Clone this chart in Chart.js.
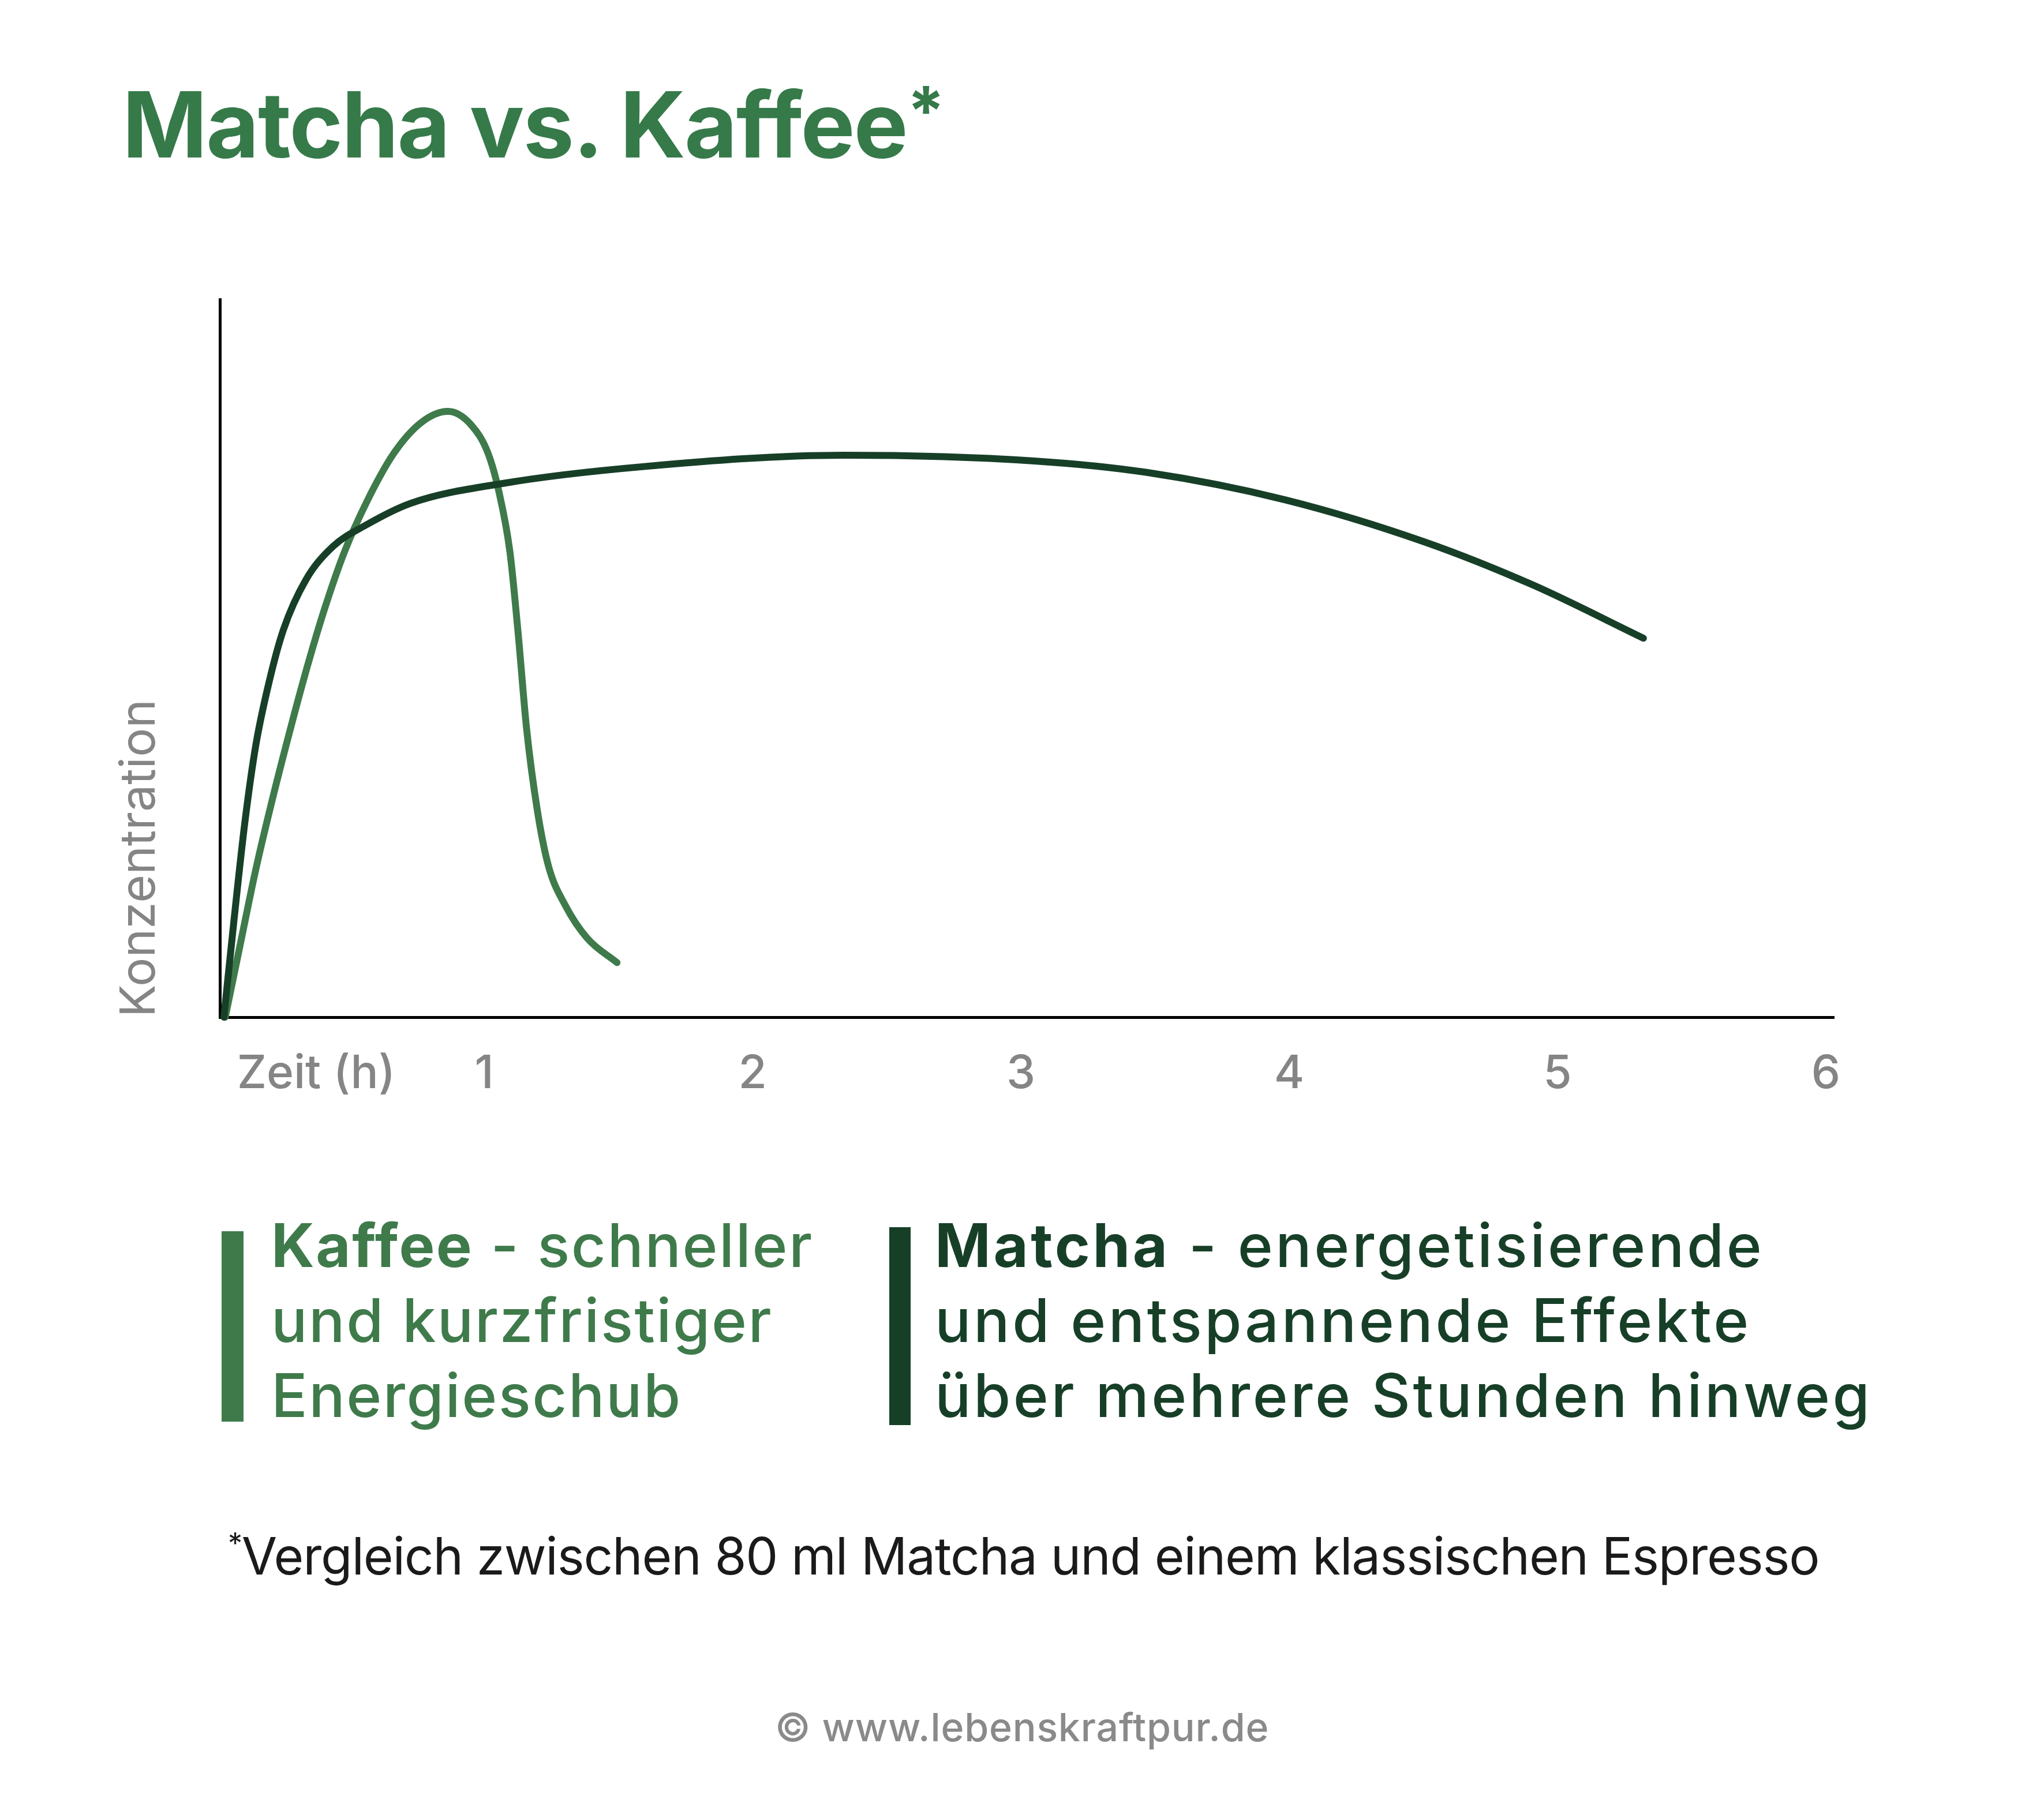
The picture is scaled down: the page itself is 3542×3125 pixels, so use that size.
<!DOCTYPE html>
<html>
<head>
<meta charset="utf-8">
<script src="https://cdn.jsdelivr.net/npm/chart.js@4.4.1/dist/chart.umd.min.js"></script>
<style>
html,body{margin:0;padding:0;background:#fff;}
#page{position:relative;width:3542px;height:3125px;overflow:hidden;font-family:Inter,Lato,sans-serif;background:#fff;}
#chart{position:absolute;left:0;top:0;}
.t{position:absolute;white-space:nowrap;margin:0;}
#title{left:212px;top:121px;font-size:158px;line-height:1.2;font-weight:700;color:#367a4a;letter-spacing:-2px;}
#title .ast{display:inline-block;font-size:118px;position:relative;top:-38px;margin-left:0px;}
.bar{position:absolute;}
#barK{left:384px;top:2134px;width:38px;height:330px;background:#3f7a4b;}
#barM{left:1541px;top:2127px;width:37px;height:343px;background:#173f28;}
.leg{font-size:104px;line-height:130px;font-weight:500;top:2093px;}
.leg b{font-weight:700;}
#legK{left:470px;color:#3f7a4b;letter-spacing:2.5px;}
#legM{left:1620px;color:#173f28;letter-spacing:4.5px;}
#foot{left:395px;top:2644px;font-size:89px;line-height:1.2;color:#1a1a1a;letter-spacing:-1.2px;}
#foot .ast{display:inline-block;font-size:50px;position:relative;top:-36px;}
#copy{left:0;width:3542px;text-align:center;top:2953px;font-size:68px;line-height:1.2;color:#8a8a8a;font-weight:500;letter-spacing:0.8px;}
</style>
</head>
<body>
<div id="page">
  <canvas id="chart" width="3542" height="2000"></canvas>
  <div class="t" id="title">Matcha vs. Kaffee<span class="ast">*</span></div>
  <div class="bar" id="barK"></div>
  <div class="bar" id="barM"></div>
  <div class="t leg" id="legK"><b>Kaffee</b> - schneller<br>und kurzfristiger<br>Energieschub</div>
  <div class="t leg" id="legM"><b>Matcha</b> - energetisierende<br>und entspannende Effekte<br>über mehrere Stunden hinweg</div>
  <div class="t" id="foot"><span class="ast">*</span>Vergleich zwischen 80 ml Matcha und einem klassischen Espresso</div>
  <div class="t" id="copy">© www.lebenskraftpur.de</div>
</div>
<script>
// ---- data (hours after intake, relative concentration 0-100) ----
const kaffeeHours  = [0.035, 0.088, 0.149, 0.211, 0.283, 0.345, 0.407, 0.479, 0.561, 0.664, 0.767, 0.865, 0.952, 1.014, 1.055, 1.096, 1.127, 1.158, 1.199, 1.240, 1.302, 1.384, 1.495];
const kaffeeValues = [0, 9.6, 20.6, 30.4, 40.9, 49.4, 57.1, 64.8, 71.7, 78.6, 82.9, 84.4, 82.5, 78.6, 73.2, 64.8, 53.3, 40.2, 28.6, 21.0, 15.6, 11.0, 7.6];
const matchaHours  = [0.03, 0.067, 0.108, 0.149, 0.201, 0.252, 0.335, 0.437, 0.561, 0.726, 1.075, 1.590, 2.340, 3.050, 3.469, 3.983, 4.498, 4.909, 5.320];
const matchaValues = [0, 13.3, 27.1, 37.9, 47.1, 54.0, 60.9, 65.6, 68.6, 71.6, 74.4, 76.7, 78.3, 77.5, 75.9, 72.1, 66.3, 60.2, 52.8];
const seriesNames  = ['Matcha', 'Kaffee'];
const tickPositions = [0.374, 1, 2, 3, 4, 5, 6];
const tickLabels    = ['Zeit (h)', '1', '2', '3', '4', '5', '6'];
const yAxisTitle    = 'Konzentration';

const toPoints = (xs, ys) => xs.map((x, i) => ({x: x, y: ys[i]}));

const GREY = '#858585';
new Chart(document.getElementById('chart'), {
  type: 'line',
  data: {
    datasets: [
      {
        label: seriesNames[0],
        data: toPoints(matchaHours, matchaValues),
        borderColor: '#173f28',
        borderWidth: 12,
        cubicInterpolationMode: 'monotone',
        borderCapStyle: 'round',
        borderJoinStyle: 'round',
        pointRadius: 0,
        fill: false,
        clip: false,
        order: 0
      },
      {
        label: seriesNames[1],
        data: toPoints(kaffeeHours, kaffeeValues),
        borderColor: '#3f7a4b',
        borderWidth: 12,
        cubicInterpolationMode: 'monotone',
        borderCapStyle: 'round',
        borderJoinStyle: 'round',
        pointRadius: 0,
        fill: false,
        clip: false,
        order: 1
      }
    ]
  },
  options: {
    responsive: false,
    devicePixelRatio: 1,
    animation: false,
    events: [],
    layout: { padding: { left: 0, top: 519, right: 364, bottom: 0 } },
    plugins: { legend: { display: false }, tooltip: { enabled: false }, title: { display: false } },
    scales: {
      x: {
        type: 'linear',
        min: 0.015,
        max: 6.03,
        grid: { display: false, drawTicks: false },
        border: { display: true, color: '#000', width: 5 },
        afterBuildTicks: (axis) => { axis.ticks = tickPositions.map(v => ({ value: v })); },
        afterFit: (axis) => { axis.height = 237; },
        ticks: {
          autoSkip: false,
          maxRotation: 0,
          padding: 51,
          color: GREY,
          font: { family: 'Inter', size: 80, weight: '500' },
          callback: (value, index) => tickLabels[index]
        }
      },
      y: {
        type: 'linear',
        min: 0,
        max: 100,
        grid: { display: false, drawTicks: false },
        border: { display: true, color: '#000', width: 5 },
        ticks: { display: false },
        afterFit: (axis) => { axis.width = 381; },
        title: {
          display: true,
          text: yAxisTitle,
          align: 'start',
          color: GREY,
          font: { family: 'Inter', size: 84, weight: '400' },
          padding: { top: 192, bottom: 0 }
        }
      }
    }
  }
});
</script>
</body>
</html>
